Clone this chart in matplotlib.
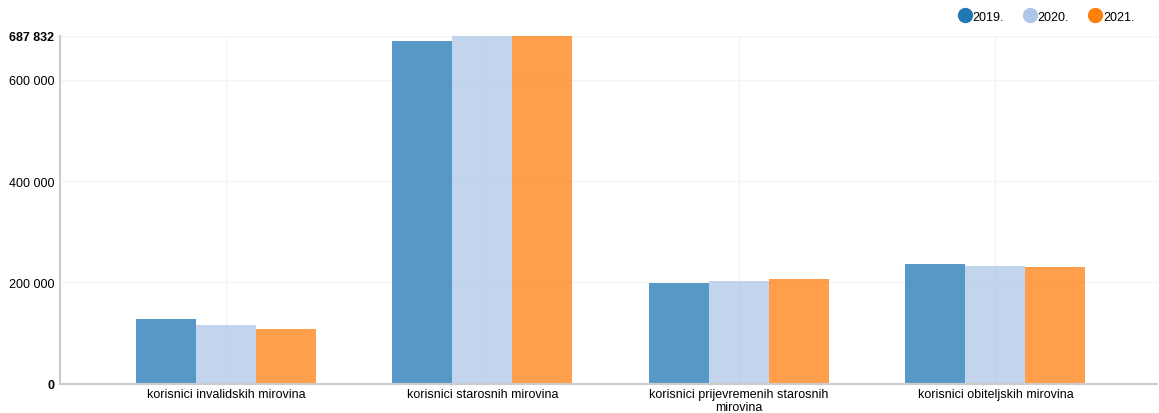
import numpy as np
import matplotlib.pyplot as plt
from matplotlib.lines import Line2D

plt.rcParams['font.family'] = ['Liberation Sans', 'DejaVu Sans']

# Data
categories = ['korisnici invalidskih mirovina', 'korisnici starosnih mirovina',
              'korisnici prijevremenih starosnih\nmirovina', 'korisnici obiteljskih mirovina']
years = ['2019.', '2020.', '2021.']
v2019 = [126700, 677200, 198000, 235600]
v2020 = [114900, 686900, 202000, 231700]
v2021 = [106900, 687832, 205900, 229700]
colors = ['#1f77b4', '#aec7e8', '#ff7f0e']
y_max = 687832

fig = plt.figure(figsize=(11.59, 4.14), dpi=100)
ax = fig.add_axes([60 / 1159, 29.5 / 414, 1097 / 1159, 348 / 414])

x = np.arange(len(categories))
width = 0.234
for i, (vals, c) in enumerate(zip([v2019, v2020, v2021], colors)):
    ax.bar(x + (i - 1) * width, vals, width, color=c, alpha=0.75, linewidth=0, zorder=2)

ax.set_xlim(-0.647, 3.63)
ax.set_ylim(0, y_max)

yticks = [0, 200000, 400000, 600000, y_max]
ax.set_yticks(yticks)
ax.set_yticklabels(['0', '200 000', '400 000', '600 000', '687 832'])
for lbl in ax.get_yticklabels():
    lbl.set_fontsize(9)
ax.get_yticklabels()[0].set_fontweight('bold')
ax.get_yticklabels()[-1].set_fontweight('bold')
ax.set_xticks(x)
ax.set_xticklabels(categories, fontsize=9, linespacing=1.15)
ax.tick_params(axis='y', length=0, pad=4)
ax.tick_params(axis='x', length=0, pad=3)

ax.grid(True, color='#f4f4f4', linewidth=1, zorder=0)
for s in ['top', 'right']:
    ax.spines[s].set_visible(False)
for s in ['left', 'bottom']:
    ax.spines[s].set_color('#cccccc')
    ax.spines[s].set_linewidth(1.5)

handles = [Line2D([], [], marker='o', linestyle='', markersize=10, color=c) for c in colors]
fig.legend(handles, years, loc='upper right', bbox_to_anchor=(1143 / 1159, 0.993),
           ncol=3, frameon=False, fontsize=9, handletextpad=-0.1, columnspacing=1.3,
           borderaxespad=0.3, handlelength=1.5)

fig.savefig('out.png', dpi=100)
